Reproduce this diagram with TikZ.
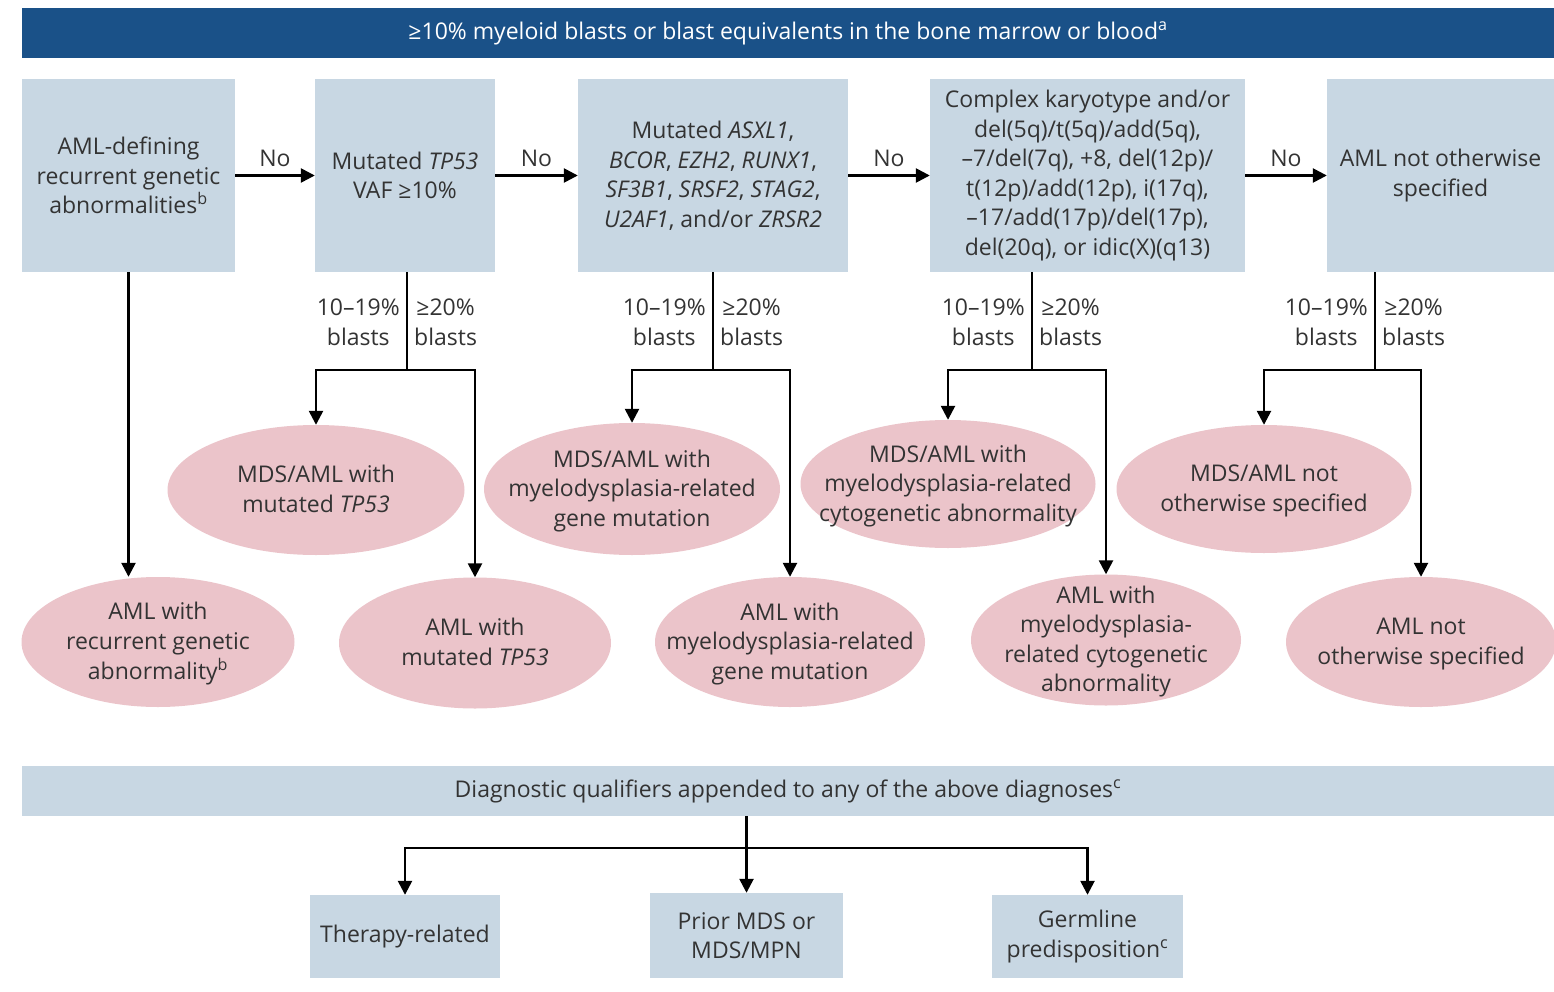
\documentclass[tikz,border=0pt]{standalone}
\usepackage{fontspec}
\setmainfont{Open Sans}
\usetikzlibrary{arrows.meta,shapes.geometric,calc}
\definecolor{bannerblue}{HTML}{1A5188}
\definecolor{boxfill}{HTML}{C8D7E3}
\definecolor{pinkfill}{HTML}{EBC4CA}
\definecolor{txt}{HTML}{333333}
\newcommand\ovtext[1]{\makebox[0pt]{\raisebox{-8pt}[0pt][0pt]{\begin{tabular}{@{}c@{}}#1\end{tabular}}}}
\begin{document}
\begin{tikzpicture}[x=1pt,y=-1pt,
  font={\fontsize{23}{29.5}\selectfont},
  box/.style={fill=boxfill, draw=none, align=center, text=txt, inner sep=0pt},
  oval/.style={ellipse, fill=pinkfill, draw=none, text=txt, inner sep=0pt},
  lbl/.style={align=center, text=txt, inner sep=0pt},
  arr/.style={-{Triangle[length=14pt,width=14pt]}, line width=2.5pt},
  ln/.style={line width=2.5pt},
]
\useasboundingbox (0,0) rectangle (1554,992);

% banner
\node[fill=bannerblue, text=white, minimum width=1532pt, minimum height=50pt, inner sep=0pt] (top) at (788,33)
  {≥10\% myeloid blasts or blast equivalents in the bone marrow or blood\textsuperscript{a}};

% first row boxes
\node[box, minimum width=213pt, minimum height=193pt] (b1) at (128.5,175.5)
  {AML-defining\\recurrent genetic\\abnormalities\textsuperscript{b}};
\node[box, minimum width=180pt, minimum height=193pt] (b2) at (405,175.5)
  {Mutated \textit{TP53}\\VAF ≥10\%};
\node[box, minimum width=270pt, minimum height=193pt] (b3) at (713,175.5)
  {Mutated \textit{ASXL1},\\\textit{BCOR}, \textit{EZH2}, \textit{RUNX1},\\\textit{SF3B1}, \textit{SRSF2}, \textit{STAG2},\\\textit{U2AF1}, and/or \textit{ZRSR2}};
\node[box, minimum width=315pt, minimum height=193pt] (b4) at (1087.5,175.5)
  {Complex karyotype and/or\\del(5q)/t(5q)/add(5q),\\–7/del(7q), +8, del(12p)/\\t(12p)/add(12p), i(17q),\\–17/add(17p)/del(17p),\\del(20q), or idic(X)(q13)};
\node[box, minimum width=227pt, minimum height=193pt] (b5) at (1440.5,175.5)
  {AML not otherwise\\specified};

% No arrows
\draw[arr] (b1.east) -- node[lbl, above=8pt] {No} (b2.west);
\draw[arr] (b2.east) -- node[lbl, above=8pt] {No} (b3.west);
\draw[arr] (b3.east) -- node[lbl, above=8pt] {No} (b4.west);
\draw[arr] (b4.east) -- node[lbl, above=8pt] {No} (b5.west);

% ellipses
\node[oval, minimum width=273pt, minimum height=130pt] (a0) at (158,642)
  {\ovtext{AML with\\recurrent genetic\\abnormality\textsuperscript{b}}};
\node[oval, minimum width=297pt, minimum height=130pt] (m1) at (316,490)
  {\ovtext{MDS/AML with\\mutated \textit{TP53}}};
\node[oval, minimum width=272pt, minimum height=131pt] (a1) at (475,643)
  {\ovtext{AML with\\mutated \textit{TP53}}};
\node[oval, minimum width=296pt, minimum height=132pt] (m2) at (632,489)
  {\ovtext{MDS/AML with\\myelodysplasia-related\\gene mutation}};
\node[oval, minimum width=270pt, minimum height=130pt] (a2) at (790,642)
  {\ovtext{AML with\\myelodysplasia-related\\gene mutation}};
\node[oval, minimum width=295pt, minimum height=128pt] (m3) at (948,484)
  {\ovtext{MDS/AML with\\myelodysplasia-related\\cytogenetic abnormality}};
\node[oval, minimum width=270pt, minimum height=131pt] (a3) at (1106,640)
  {\ovtext{AML with\\myelodysplasia-\\related cytogenetic\\abnormality}};
\node[oval, minimum width=295pt, minimum height=128pt] (m4) at (1264,489)
  {\ovtext{MDS/AML not\\otherwise specified}};
\node[oval, minimum width=270pt, minimum height=130pt] (a4) at (1421,642)
  {\ovtext{AML not\\otherwise specified}};

% box 1 down
\draw[arr] (b1.south) -- (b1.south |- a0.north);

% branches
\foreach \b/\m/\a/\dx in {b2/m1/a1/2, b3/m2/a2/0, b4/m3/a3/-55.5, b5/m4/a4/-65.5}{
  \coordinate (s\b) at ($(\b.south)+(\dx,0)$);
  \draw[ln] (s\b) -- ++(0,98) coordinate (j\b);
  \draw[arr] (j\b) -| (\m.north);
  \draw[arr] (j\b) -| (\a.north);
  \node[lbl, anchor=east] at ($(s\b)+(-7,50)$) {10–19\%\\blasts};
  \node[lbl, anchor=west] at ($(s\b)+(7,50)$) {≥20\%\\blasts};
}

% qualifiers
\node[box, minimum width=1532pt, minimum height=50pt] (q) at (788,791)
  {Diagnostic qualifiers appended to any of the above diagnoses\textsuperscript{c}};
\node[box, minimum width=190pt, minimum height=83pt] (t1) at (405,936.5) {Therapy-related};
\node[box, minimum width=193pt, minimum height=85pt] (t2) at (746.5,935.5) {Prior MDS or\\MDS/MPN};
\node[box, minimum width=191pt, minimum height=83pt] (t3) at (1087.5,936.5) {Germline\\predisposition\textsuperscript{c}};

\draw[ln] (q.south -| t2.north) -- ++(0,32) coordinate (jq);
\draw[arr] (jq) -| (t1.north);
\draw[arr] (jq) -- (t2.north);
\draw[arr] (jq) -| (t3.north);
\end{tikzpicture}
\end{document}
